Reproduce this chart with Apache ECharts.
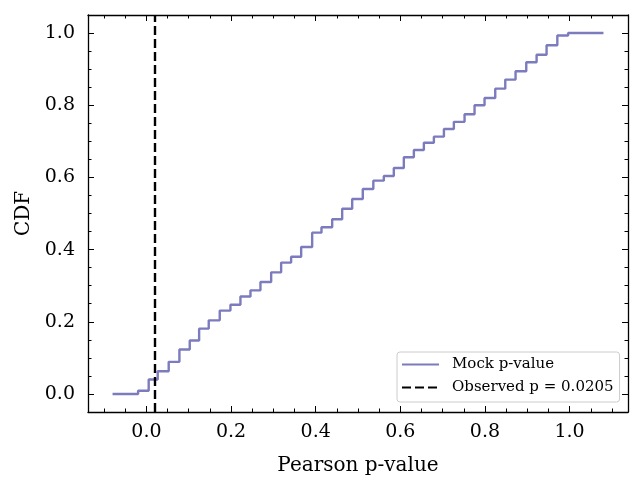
<!DOCTYPE html>
<html>
<head>
<meta charset="utf-8">
<script src="https://cdn.jsdelivr.net/npm/echarts@6/dist/echarts.min.js"></script>
<style>
  html, body { margin: 0; padding: 0; background: #fff; }
  #chart { width: 642px; height: 492px; }
</style>
</head>
<body>
<div id="chart"></div>
<script>
// step positions of the mock p-value CDF (post steps)
const stepX = [-0.08, -0.0196, 0.0054, 0.0267, 0.0527, 0.078, 0.1024, 0.1246, 0.1473, 0.1733,
  0.1986, 0.2222, 0.2459, 0.2695, 0.2948, 0.3184, 0.342, 0.3657, 0.3917, 0.4137,
  0.439, 0.4626, 0.4863, 0.5113, 0.5362, 0.561, 0.5846, 0.6083, 0.632, 0.6556,
  0.6793, 0.703, 0.7265, 0.7518, 0.7754, 0.799, 0.8243, 0.848, 0.8723, 0.8976,
  0.922, 0.9456, 0.971, 0.9965, 1.08];
const cdfY = [0, 0.009, 0.040, 0.063, 0.089, 0.123, 0.148, 0.181, 0.204, 0.231,
  0.247, 0.270, 0.287, 0.310, 0.337, 0.364, 0.380, 0.407, 0.447, 0.462,
  0.484, 0.513, 0.540, 0.568, 0.591, 0.604, 0.626, 0.656, 0.676, 0.696,
  0.713, 0.734, 0.754, 0.775, 0.800, 0.820, 0.846, 0.871, 0.894, 0.919,
  0.940, 0.966, 0.993, 1.0, 1.0];
const obsP = 0.0205;

const xMajor = [0, 0.2, 0.4, 0.6, 0.8, 1.0];
const xMinor = [-0.1, -0.05, 0.05, 0.1, 0.15, 0.25, 0.3, 0.35, 0.45, 0.5, 0.55, 0.65, 0.7, 0.75, 0.85, 0.9, 0.95, 1.05, 1.1];
const yMajor = [0, 0.2, 0.4, 0.6, 0.8, 1.0];
const yMinor = [0.05, 0.1, 0.15, 0.25, 0.3, 0.35, 0.45, 0.5, 0.55, 0.65, 0.7, 0.75, 0.85, 0.9, 0.95];

const xMin = -0.138, xMax = 1.138;
const yMin = -0.05, yMax = 1.05;

const FONT = 'DejaVu Serif';
const tickLine = { color: '#000', width: 1 };
const dashStyle = { color: '#000', width: 2.4, type: [9, 4] };

function axis(pos, min, max, ticks, len, opts) {
  return Object.assign({
    type: 'value',
    position: pos,
    min: min,
    max: max,
    axisLine: { show: false, onZero: false },
    axisTick: { show: true, inside: true, length: len, customValues: ticks, lineStyle: tickLine },
    axisLabel: { show: false },
    splitLine: { show: false }
  }, opts || {});
}

const spine = { show: true, onZero: false, lineStyle: { color: '#000', width: 1.3 } };

let chart = echarts.init(document.getElementById('chart'));
let option = {
  animation: false,
  grid: { left: 88, right: 14, top: 15, bottom: 80 },
  legend: {
    left: 397,
    top: 352,
    orient: 'vertical',
    data: ['Mock p-value', 'Observed p = 0.0205'],
    backgroundColor: 'rgba(255,255,255,0.8)',
    borderColor: '#cccccc',
    borderWidth: 1,
    borderRadius: 3,
    padding: [5, 6, 7, 4],
    itemWidth: 37,
    itemHeight: 14,
    itemGap: 8,
    itemStyle: { opacity: 0 },
    textStyle: { fontFamily: FONT, fontSize: 15, color: '#000', padding: [0, 0, 0, 8] }
  },
  xAxis: [
    axis('bottom', xMin, xMax, xMajor, 6, {
      axisLine: spine,
      axisLabel: {
        show: true, customValues: xMajor, margin: 11,
        formatter: v => v.toFixed(1),
        fontFamily: FONT, fontSize: 19, color: '#000'
      },
      name: 'Pearson p-value',
      nameLocation: 'middle',
      nameGap: 44,
      nameTextStyle: { fontFamily: FONT, fontSize: 20, color: '#000' }
    }),
    axis('bottom', xMin, xMax, xMinor, 3.5),
    axis('top', xMin, xMax, xMajor, 6, { axisLine: spine }),
    axis('top', xMin, xMax, xMinor, 3.5)
  ],
  yAxis: [
    axis('left', yMin, yMax, yMajor, 6, {
      axisLine: spine,
      axisLabel: {
        show: true, customValues: yMajor, margin: 13,
        formatter: v => v.toFixed(1),
        fontFamily: FONT, fontSize: 19, color: '#000'
      },
      name: 'CDF',
      nameLocation: 'middle',
      nameGap: 51,
      nameTextStyle: { fontFamily: FONT, fontSize: 20, color: '#000' }
    }),
    axis('left', yMin, yMax, yMinor, 3.5),
    axis('right', yMin, yMax, yMajor, 6, { axisLine: spine }),
    axis('right', yMin, yMax, yMinor, 3.5)
  ],
  series: [
    {
      name: 'Mock p-value',
      type: 'line',
      step: 'end',
      symbol: 'none',
      xAxisIndex: 0,
      yAxisIndex: 0,
      lineStyle: { color: '#7b7bbd', width: 2.4 },
      itemStyle: { color: '#7b7bbd' },
      data: stepX.map((x, i) => [x, cdfY[i]])
    },
    {
      name: 'Observed p = 0.0205',
      type: 'line',
      symbol: 'none',
      xAxisIndex: 0,
      yAxisIndex: 0,
      lineStyle: dashStyle,
      itemStyle: { color: '#000' },
      data: [],
      markLine: {
        symbol: 'none',
        silent: true,
        label: { show: false },
        lineStyle: dashStyle,
        data: [{ xAxis: obsP }]
      }
    }
  ]
};
chart.setOption(option);
</script>
</body>
</html>
